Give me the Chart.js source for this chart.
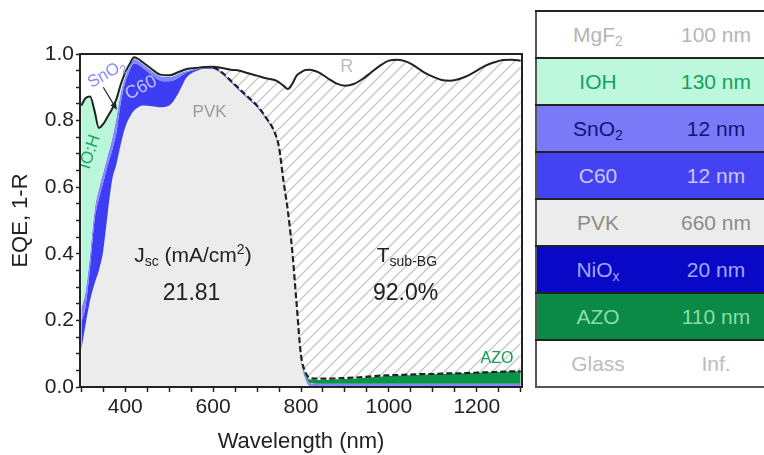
<!DOCTYPE html>
<html>
<head>
<meta charset="utf-8">
<title>EQE and layer absorption</title>
<script src="https://cdn.jsdelivr.net/npm/chart.js@4.4.0/dist/chart.umd.min.js"></script>
<style>
    body { margin: 0; background: #fff; font-family: "Liberation Sans", Arial, sans-serif; }
    #wrap { position: relative; width: 764px; height: 455px; overflow: hidden; }
    #chart-box { position: absolute; left: 0; top: 0; width: 530px; height: 455px; }
    #stack {
        position: absolute; left: 535px; top: 10px; width: 240px;
        border-collapse: collapse; border: 2px solid #555;
    }
    #stack td { height: 45px; padding: 0; text-align: center; font-size: 21px; border-top: 2px solid #222; }
    #stack td.name { width: 122px; }
    #stack sub { font-size: 14px; vertical-align: -4px; line-height: 0; }
</style>
</head>
<body>
<div id="wrap">
    <div id="chart-box"><canvas id="eqeChart"></canvas></div>
    <table id="stack"></table>
</div>
<script>
    // wavelength grid (nm)
    const wl = [300, 310, 320, 330, 340, 350, 360, 370, 380, 390, 400, 410, 420, 430, 440,
        460, 480, 500, 520, 540, 560, 580, 600, 620, 640, 660, 680, 700, 720, 740,
        750, 760, 770, 780, 790, 800, 810, 820,
        840, 860, 880, 900, 920, 940, 960, 980, 1000, 1020, 1040, 1060, 1080, 1100,
        1120, 1140, 1160, 1180, 1200, 1220, 1240, 1260, 1280, 1300];

    // 1-R (black line)
    const oneMinusR = [.845, .868, .872, .83, .778, .79, .812, .835, .865, .91, .945, .97, .99, .985, .975,
        .955, .938, .936, .945, .955, .958, .961, .962, .958, .953, .95, .942, .935, .927, .922,
        .915, .905, .895, .91, .935, .945, .952, .953,
        .945, .928, .912, .905, .91, .925, .945, .965, .98, .983, .977, .963, .945, .932,
        .922, .92, .925, .935, .95, .965, .975, .982, .983, .98];

    // total absorption (dashed line), cumulative
    const totalAbs = [.845, .868, .872, .83, .778, .79, .812, .835, .865, .91, .945, .97, .99, .985, .975,
        .955, .938, .936, .945, .955, .958, .961, .959, .945, .92, .895, .87, .845, .81, .765,
        .72, .62, .53, .41, .25, .095, .045, .027,
        .025, .025, .026, .027, .028, .03, .032, .034, .035, .036, .037, .038, .039, .039,
        .04, .041, .041, .042, .043, .044, .045, .046, .047, .047];

    // cumulative layer tops
    const azoTop = [.845, .868, .872, .83, .778, .79, .812, .835, .865, .91, .945, .97, .99, .985, .975,
        .955, .938, .936, .945, .955, .958, .961, .959, .945, .92, .895, .87, .845, .81, .765,
        .72, .62, .53, .41, .25, .09, .04, .023,
        .021, .022, .023, .024, .025, .027, .029, .031, .033, .034, .035, .036, .037, .038,
        .039, .04, .041, .042, .043, .044, .045, .046, .047, .047];

    const iohTop = [.845, .868, .872, .83, .778, .79, .812, .835, .865, .91, .945, .97, .99, .985, .975,
        .955, .938, .936, .945, .955, .958, .961, .959, .945, .92, .895, .87, .845, .81, .765,
        .72, .62, .53, .41, .25, .088, .035, .012,
        .01, .01, .01, .01, .01, .01, .01, .01, .01, .01, .01, .01, .01, .01,
        .01, .01, .01, .01, .01, .01, .01, .01, .01, .01];

    const sno2Top = [.235, .29, .40, .53, .595, .645, .695, .745, .81, .885, .932, .962, .985, .98, .97,
        .95, .933, .931, .94, .95, .956, .96, .959, .945, .92, .895, .87, .845, .81, .765,
        .72, .62, .53, .41, .25, .088, .035, .012,
        .01, .01, .01, .01, .01, .01, .01, .01, .01, .01, .01, .01, .01, .01,
        .01, .01, .01, .01, .01, .01, .01, .01, .01, .01];

    const c60Top = [.195, .245, .36, .50, .565, .615, .665, .71, .765, .855, .915, .95, .972, .968, .958,
        .938, .92, .918, .928, .945, .953, .958, .958, .943, .918, .893, .868, .843, .808, .763,
        .718, .618, .528, .408, .248, .086, .03, .006,
        .002, .001, .001, .001, .001, .001, .001, .001, .001, .001, .001, .001, .001, .001,
        .001, .001, .001, .001, .001, .001, .001, .001, .001, .001];

    // PVK = EQE
    const pvkTop = [.11, .19, .26, .31, .35, .41, .52, .62, .67, .73, .78, .81, .83, .84, .845,
        .843, .84, .845, .88, .93, .948, .956, .956, .94, .915, .89, .865, .84, .805, .76,
        .715, .615, .525, .405, .245, .083, .025, .004,
        0, 0, 0, 0, 0, 0, 0, 0, 0, 0, 0, 0, 0, 0,
        0, 0, 0, 0, 0, 0, 0, 0, 0, 0];

    // layer stack table
    const layerNames = ['MgF<sub>2</sub>', 'IOH', 'SnO<sub>2</sub>', 'C60', 'PVK', 'NiO<sub>x</sub>', 'AZO', 'Glass'];
    const layerThickness = ['100 nm', '130 nm', '12 nm', '12 nm', '660 nm', '20 nm', '110 nm', 'Inf.'];
    const rowFill = ['#ffffff', '#bdf8dd', '#7a7af8', '#4343f3', '#ececec', '#0808c6', '#0b8a47', '#ffffff'];
    const rowInk = ['#b5b5b5', '#15a05b', '#12127a', '#c8c8ff', '#8c8c8c', '#a6a6ff', '#88dea6', '#bcbcbc'];

    const table = document.getElementById('stack');
    layerNames.forEach((name, i) => {
        const tr = document.createElement('tr');
        tr.style.background = rowFill[i];
        tr.style.color = rowInk[i];
        tr.innerHTML = '<td class="name">' + name + '</td><td>' + layerThickness[i] + '</td>';
        table.appendChild(tr);
    });

    const FONT = '"Liberation Sans", Arial, sans-serif';
    Chart.defaults.font.family = FONT;

    function makeHatch() {
        const s = 12;
        const c = document.createElement('canvas');
        c.width = s; c.height = s;
        const g = c.getContext('2d');
        g.strokeStyle = '#c6c6c6';
        g.lineWidth = 1.3;
        g.beginPath();
        g.moveTo(-1, s + 1); g.lineTo(s + 1, -1);
        g.moveTo(-1, 1); g.lineTo(1, -1);
        g.moveTo(s - 1, s + 1); g.lineTo(s + 1, s - 1);
        g.stroke();
        return g.createPattern(c, 'repeat');
    }

    // text labels inside the plot: [parts], position in data units, rotation, colour, size
    const notes = [
        { parts: [['IO:H']], at: [320, 0.706], rot: -72, color: '#1fa463', size: 17 },
        { parts: [['SnO'], ['2', 'sub']], at: [358, 0.94], rot: -30, color: '#8a8aff', size: 17 },
        { parts: [['C60']], at: [436, 0.898], rot: -28, color: '#c4c4ff', size: 18 },
        { parts: [['PVK']], at: [592, 0.826], rot: 0, color: '#9a9a9a', size: 17 },
        { parts: [['R']], at: [904, 0.961], rot: 0, color: '#bcbcbc', size: 18 },
        { parts: [['J'], ['sc', 'sub'], [' (mA/cm'], ['2', 'sup'], [')']], at: [554, 0.393], rot: 0, color: '#222', size: 21 },
        { parts: [['21.81']], at: [551, 0.279], rot: 0, color: '#222', size: 23 },
        { parts: [['T'], ['sub-BG', 'sub']], at: [1041, 0.393], rot: 0, color: '#222', size: 21 },
        { parts: [['92.0%']], at: [1038, 0.279], rot: 0, color: '#222', size: 23 },
        { parts: [['AZO']], at: [1246, 0.084], rot: 0, color: '#14a050', size: 16 }
    ];

    function drawRich(ctx, parts, size, color) {
        const fontFor = p => (p[1] ? Math.round(size * 0.68) : size) + 'px ' + FONT;
        let w = 0;
        parts.forEach(p => { ctx.font = fontFor(p); w += ctx.measureText(p[0]).width; });
        let cx = -w / 2;
        ctx.fillStyle = color;
        ctx.textBaseline = 'middle';
        ctx.textAlign = 'left';
        parts.forEach(p => {
            ctx.font = fontFor(p);
            const dy = p[1] === 'sub' ? size * 0.3 : (p[1] === 'sup' ? -size * 0.3 : 0);
            ctx.fillText(p[0], cx, dy);
            cx += ctx.measureText(p[0]).width;
        });
    }

    const notePlugin = {
        id: 'notes',
        afterDatasetsDraw(chart) {
            const ctx = chart.ctx;
            const xs = chart.scales.x, ys = chart.scales.y;
            notes.forEach(n => {
                ctx.save();
                ctx.translate(xs.getPixelForValue(n.at[0]), ys.getPixelForValue(n.at[1]));
                ctx.rotate(n.rot * Math.PI / 180);
                drawRich(ctx, n.parts, n.size, n.color);
                ctx.restore();
            });

            // arrow pointing at the SnO2 layer
            const x0 = xs.getPixelForValue(350), y0 = ys.getPixelForValue(0.90);
            const x1 = xs.getPixelForValue(381), y1 = ys.getPixelForValue(0.832);
            const ang = Math.atan2(y1 - y0, x1 - x0);
            ctx.save();
            ctx.strokeStyle = '#222';
            ctx.fillStyle = '#222';
            ctx.lineWidth = 1.2;
            ctx.beginPath();
            ctx.moveTo(x0, y0);
            ctx.lineTo(x1 - 5 * Math.cos(ang), y1 - 5 * Math.sin(ang));
            ctx.stroke();
            ctx.beginPath();
            ctx.moveTo(x1, y1);
            ctx.lineTo(x1 - 8 * Math.cos(ang - 0.4), y1 - 8 * Math.sin(ang - 0.4));
            ctx.lineTo(x1 - 8 * Math.cos(ang + 0.4), y1 - 8 * Math.sin(ang + 0.4));
            ctx.closePath();
            ctx.fill();
            ctx.restore();

            // frame
            const a = chart.chartArea;
            ctx.save();
            ctx.strokeStyle = '#222';
            ctx.lineWidth = 2;
            ctx.strokeRect(a.left, a.top, a.right - a.left, a.bottom - a.top);
            ctx.restore();
        }
    };

    const pts = arr => arr.map((v, i) => ({ x: wl[i], y: v }));
    const layer = (label, arr, color, fill) => ({
        label: label, data: pts(arr), fill: fill, backgroundColor: color,
        borderColor: 'rgba(0,0,0,0)', borderWidth: 0, pointRadius: 0
    });

    new Chart(document.getElementById('eqeChart'), {
        type: 'line',
        data: {
            datasets: [
                { label: '1-R', data: pts(oneMinusR), borderColor: '#222', borderWidth: 2,
                  pointRadius: 0, fill: '+1', backgroundColor: makeHatch() },
                { label: 'Total', data: pts(totalAbs), borderColor: '#222', borderWidth: 2.2,
                  borderDash: [6, 3], pointRadius: 0, fill: false,
                  segment: { borderColor: c => c.p0.parsed.x < 590 ? 'rgba(0,0,0,0)' : '#222' } },
                layer('AZO', azoTop, '#0a9448', '+1'),
                layer('IOH', iohTop, '#b9f6da', '+1'),
                layer('SnO2', sno2Top, '#8585ff', '+1'),
                layer('C60', c60Top, '#3d3df4', '+1'),
                layer('PVK', pvkTop, '#ececec', 'origin')
            ]
        },
        options: {
            responsive: true,
            maintainAspectRatio: false,
            animation: false,
            layout: { padding: { top: 54, right: 8, left: 0, bottom: 0 } },
            elements: { line: { cubicInterpolationMode: 'monotone' } },
            plugins: {
                legend: { display: false },
                tooltip: { enabled: false },
                filler: { drawTime: 'beforeDatasetsDraw' }
            },
            scales: {
                x: {
                    type: 'linear', min: 297, max: 1303,
                    ticks: {
                        stepSize: 50, includeBounds: false, autoSkip: false, maxRotation: 0,
                        color: '#222', font: { size: 21 }, padding: 3,
                        callback: v => (v % 200 === 0 ? v : '')
                    },
                    grid: { drawOnChartArea: false, color: '#222', tickLength: 5, tickWidth: 1.5 },
                    border: { color: '#222', width: 2 },
                    title: { display: true, text: 'Wavelength (nm)', color: '#222', font: { size: 22 },
                             padding: { top: 6, bottom: 0 } },
                    afterFit: s => { s.height = 68; }
                },
                y: {
                    min: 0, max: 1,
                    ticks: {
                        stepSize: 0.05, includeBounds: false, autoSkip: false,
                        color: '#222', font: { size: 21 }, padding: 2,
                        callback: v => (Math.round(v * 100) % 20 === 0 ? v.toFixed(1) : '')
                    },
                    grid: { drawOnChartArea: false, color: '#222', tickLength: 4, tickWidth: 1.5 },
                    border: { color: '#222', width: 2 },
                    title: { display: true, text: 'EQE, 1-R', color: '#222', font: { size: 22 },
                             padding: { top: 8, bottom: 0 } },
                    afterFit: s => { s.width = 80; }
                }
            }
        },
        plugins: [notePlugin]
    });
</script>
</body>
</html>
